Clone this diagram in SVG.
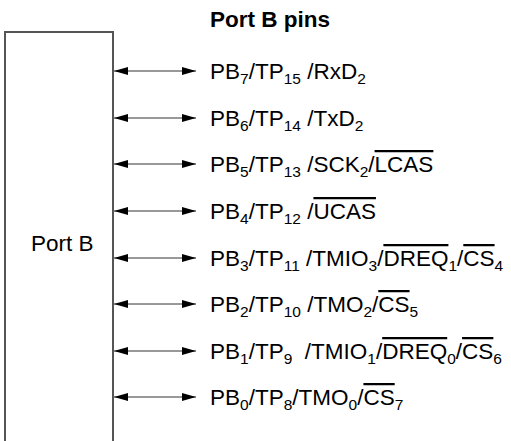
<svg xmlns="http://www.w3.org/2000/svg" width="511" height="441" viewBox="0 0 511 441">
<defs>
<style>
text{font-family:"Liberation Sans",Arial,sans-serif;font-size:22.5px;fill:#000;white-space:pre}
.title{font-weight:bold}
.s{font-size:15.5px}
.box{fill:#fff;stroke:#555;stroke-width:2}
.c{stroke:#333;stroke-width:1;fill:none;marker-start:url(#ah);marker-end:url(#ah)}
</style>
<marker id="ah" viewBox="0 0 14 8" refX="14" refY="4" markerWidth="14" markerHeight="8" markerUnits="userSpaceOnUse" orient="auto-start-reverse">
<path d="M0,0 L14,4 L0,8 Z" fill="#000"/>
</marker>
</defs>
<rect width="511" height="441" fill="#fff"/>
<text class="title" x="210" y="27">Port B pins</text>
<g id="portb">
<rect class="box" x="5" y="32" width="108" height="420"/>
<text x="31" y="251">Port B</text>
</g>
<g id="connectors">
<line class="c" x1="114" y1="71" x2="196" y2="71"/>
<line class="c" x1="114" y1="118" x2="196" y2="118"/>
<line class="c" x1="114" y1="164" x2="196" y2="164"/>
<line class="c" x1="114" y1="211" x2="196" y2="211"/>
<line class="c" x1="114" y1="258" x2="196" y2="258"/>
<line class="c" x1="114" y1="304" x2="196" y2="304"/>
<line class="c" x1="114" y1="351" x2="196" y2="351"/>
<line class="c" x1="114" y1="397" x2="196" y2="397"/>
</g>
<g id="pb7"><text x="210" y="79">PB<tspan class="s" dy="5">7</tspan><tspan dy="-5">/TP</tspan><tspan class="s" dy="5">15</tspan><tspan dy="-5"> /RxD</tspan><tspan class="s" dy="5">2</tspan></text></g>
<g id="pb6"><text x="210" y="126">PB<tspan class="s" dy="5">6</tspan><tspan dy="-5">/TP</tspan><tspan class="s" dy="5">14</tspan><tspan dy="-5"> /TxD</tspan><tspan class="s" dy="5">2</tspan></text></g>
<g id="pb5"><text x="210" y="172">PB<tspan class="s" dy="5">5</tspan><tspan dy="-5">/TP</tspan><tspan class="s" dy="5">13</tspan><tspan dy="-5"> /SCK</tspan><tspan class="s" dy="5">2</tspan><tspan dy="-5">/</tspan><tspan text-decoration="overline">LCAS</tspan></text></g>
<g id="pb4"><text x="210" y="219">PB<tspan class="s" dy="5">4</tspan><tspan dy="-5">/TP</tspan><tspan class="s" dy="5">12</tspan><tspan dy="-5"> /</tspan><tspan text-decoration="overline">UCAS</tspan></text></g>
<g id="pb3"><text x="210" y="266">PB<tspan class="s" dy="5">3</tspan><tspan dy="-5">/TP</tspan><tspan class="s" dy="5">11</tspan><tspan dy="-5"> /TMIO</tspan><tspan class="s" dy="5">3</tspan><tspan dy="-5">/</tspan><tspan text-decoration="overline">DREQ</tspan><tspan class="s" dy="5">1</tspan><tspan dy="-5">/</tspan><tspan text-decoration="overline">CS</tspan><tspan class="s" dy="5">4</tspan></text></g>
<g id="pb2"><text x="210" y="312">PB<tspan class="s" dy="5">2</tspan><tspan dy="-5">/TP</tspan><tspan class="s" dy="5">10</tspan><tspan dy="-5"> /TMO</tspan><tspan class="s" dy="5">2</tspan><tspan dy="-5">/</tspan><tspan text-decoration="overline">CS</tspan><tspan class="s" dy="5">5</tspan></text></g>
<g id="pb1"><text x="210" y="359">PB<tspan class="s" dy="5">1</tspan><tspan dy="-5">/TP</tspan><tspan class="s" dy="5">9</tspan><tspan dy="-5">  /TMIO</tspan><tspan class="s" dy="5">1</tspan><tspan dy="-5">/</tspan><tspan text-decoration="overline">DREQ</tspan><tspan class="s" dy="5">0</tspan><tspan dy="-5">/</tspan><tspan text-decoration="overline">CS</tspan><tspan class="s" dy="5">6</tspan></text></g>
<g id="pb0"><text x="210" y="405">PB<tspan class="s" dy="5">0</tspan><tspan dy="-5">/TP</tspan><tspan class="s" dy="5">8</tspan><tspan dy="-5">/TMO</tspan><tspan class="s" dy="5">0</tspan><tspan dy="-5">/</tspan><tspan text-decoration="overline">CS</tspan><tspan class="s" dy="5">7</tspan></text></g>
</svg>
